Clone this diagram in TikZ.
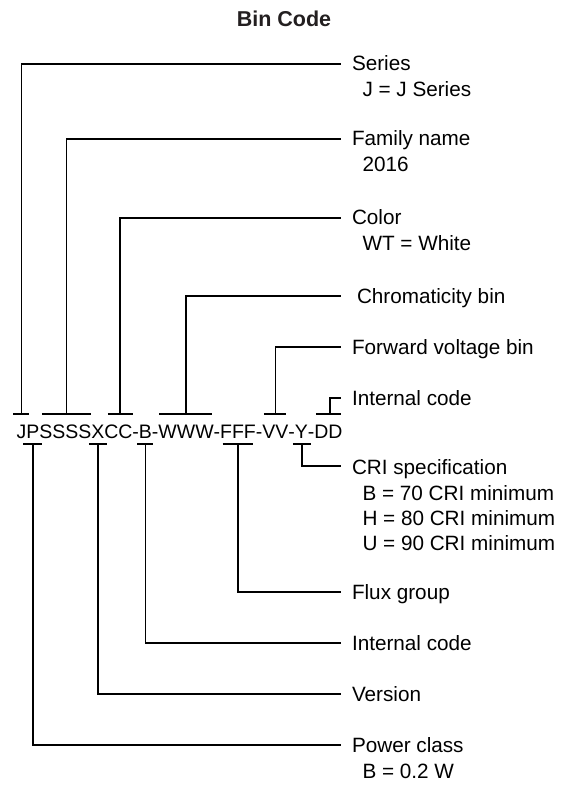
\documentclass[tikz,border=0pt]{standalone}
\usepackage{fontspec}
\setmainfont{Liberation Sans}
\usetikzlibrary{calc}
\definecolor{titlegray}{RGB}{35,31,32}
\begin{document}
\begin{tikzpicture}[x=1pt,y=-1pt,
  lbl/.style={anchor=base west,inner sep=0pt,outer sep=0pt,font=\fontsize{20.7}{24}\selectfont},
  codech/.style={anchor=base west,inner sep=0pt,outer sep=0pt,font=\fontsize{19.5}{24}\selectfont},
  conn/.style={line width=1.5pt,line join=miter},
  barline/.style={line width=1.5pt}]
\useasboundingbox (0,0) rectangle (571,786);
\node[font=\bfseries\fontsize{21.5}{25}\selectfont,text=titlegray,anchor=base,inner sep=0pt] (title) at (284,26.5) {Bin Code};
% code string
\node[codech] (cJ) at (16.5,438.5) {J};
\node[codech] (cP) at (cJ.base east) {P};
\node[codech] (cS) at (cP.base east) {SSSS};
\node[codech] (cX) at (cS.base east) {X};
\node[codech] (cC) at (cX.base east) {CC};
\node[codech] (d1) at (cC.base east) {-};
\node[codech] (cB) at (d1.base east) {B};
\node[codech] (d2) at (cB.base east) {-};
\node[codech] (cW) at (d2.base east) {WWW};
\node[codech] (d3) at (cW.base east) {-};
\node[codech] (cF) at (d3.base east) {FFF};
\node[codech] (d4) at (cF.base east) {-};
\node[codech] (cV) at (d4.base east) {VV};
\node[codech] (d5) at (cV.base east) {-};
\node[codech] (cY) at (d5.base east) {Y};
\node[codech] (d6) at (cY.base east) {-};
\node[codech] (cD) at (d6.base east) {DD};
% labels
\node[lbl] (series) at (352,71) {Series};
\node[lbl] (seriesv) at ($(series.base west)+(10.5,25.5)$) {J = J Series};
\node[lbl] (family) at (352,146) {Family name};
\node[lbl] (familyv) at ($(family.base west)+(10.5,25.5)$) {2016};
\node[lbl] (color) at (352,225) {Color};
\node[lbl] (colorv) at ($(color.base west)+(10.5,26)$) {WT = White};
\node[lbl] (chroma) at (352,303) {\hspace*{5pt}Chromaticity bin};
\node[lbl] (fwd) at (352,354) {Forward voltage bin};
\node[lbl] (intA) at (352,405) {Internal code};
\node[lbl] (cri) at (352,474) {CRI specification};
\node[lbl] (criB) at ($(cri.base west)+(10.5,26)$) {B = 70 CRI minimum};
\node[lbl] (criH) at ($(cri.base west)+(10.5,51)$) {H = 80 CRI minimum};
\node[lbl] (criU) at ($(cri.base west)+(10.5,76)$) {U = 90 CRI minimum};
\node[lbl] (flux) at (352,599) {Flux group};
\node[lbl] (intB) at (352,650) {Internal code};
\node[lbl] (version) at (352,701) {Version};
\node[lbl] (power) at (352,752) {Power class};
\node[lbl] (powerv) at ($(power.base west)+(10.5,26)$) {B = 0.2 W};
% top bar points
\coordinate (tJ) at ($(cJ.base)+(0,-24.5)$);
\coordinate (tS) at ($(cS.base)+(1,-24.5)$);
\coordinate (tC) at ($(cC.base)+(1.5,-24.5)$);
\coordinate (tW) at ($(cW.base)+(0,-24.5)$);
\coordinate (tV) at ($(cV.base)+(0,-24.5)$);
\coordinate (tD) at ($(cD.base)+(1.5,-24.5)$);
% bottom bar points
\coordinate (bP) at ($(cP.base)+(0,5.5)$);
\coordinate (bX) at ($(cX.base)+(0,5.5)$);
\coordinate (bB) at ($(cB.base)+(0,5.5)$);
\coordinate (bF) at ($(cF.base)+(0,5.5)$);
\coordinate (bY) at ($(cY.base)+(0.5,5.5)$);
% top bars
\draw[barline] ($(tJ)+(-8,0)$) -- ($(tJ)+(8,0)$);
\draw[barline] ($(cS.base west)+(2.5,-24.5)$) -- ($(cS.base east)+(-0.5,-24.5)$);
\draw[barline] ($(cC.base west)+(3.5,-24.5)$) -- ($(cC.base east)+(0.5,-24.5)$);
\draw[barline] ($(cW.base west)+(1,-24.5)$) -- ($(cW.base east)+(-1.5,-24.5)$);
\draw[barline] ($(cV.base west)+(1.5,-24.5)$) -- ($(cV.base east)+(-2,-24.5)$);
\draw[barline] ($(cD.base west)+(1.5,-24.5)$) -- ($(cD.base east)+(-1.5,-24.5)$);
% bottom bars
\draw[barline] ($(bP)+(-9.5,0)$) -- ($(bP)+(9.5,0)$);
\draw[barline] ($(bX)+(-9,0)$) -- ($(bX)+(9,0)$);
\draw[barline] ($(bB)+(-8,0)$) -- ($(bB)+(8,0)$);
\draw[barline] ($(cF.base west)+(2.5,5.5)$) -- ($(cF.base east)+(-2.5,5.5)$);
\draw[barline] ($(bY)+(-9,0)$) -- ($(bY)+(9,0)$);
% connectors
\draw[conn] (tJ) |- ([shift={(-11,-7)}]series.base west);
\draw[conn] (tS) |- ([shift={(-11,-7)}]family.base west);
\draw[conn] (tC) |- ([shift={(-11,-7)}]color.base west);
\draw[conn] (tW) |- ([shift={(-11,-7)}]chroma.base west);
\draw[conn] (tV) |- ([shift={(-11,-7)}]fwd.base west);
\draw[conn] (tD) |- ([shift={(-11,-7)}]intA.base west);
\draw[conn] (bY) |- ([shift={(-11,-8)}]cri.base west);
\draw[conn] (bF) |- ([shift={(-11,-7)}]flux.base west);
\draw[conn] (bB) |- ([shift={(-11,-7)}]intB.base west);
\draw[conn] (bX) |- ([shift={(-11,-7)}]version.base west);
\draw[conn] (bP) |- ([shift={(-11,-7)}]power.base west);
\end{tikzpicture}
\end{document}
